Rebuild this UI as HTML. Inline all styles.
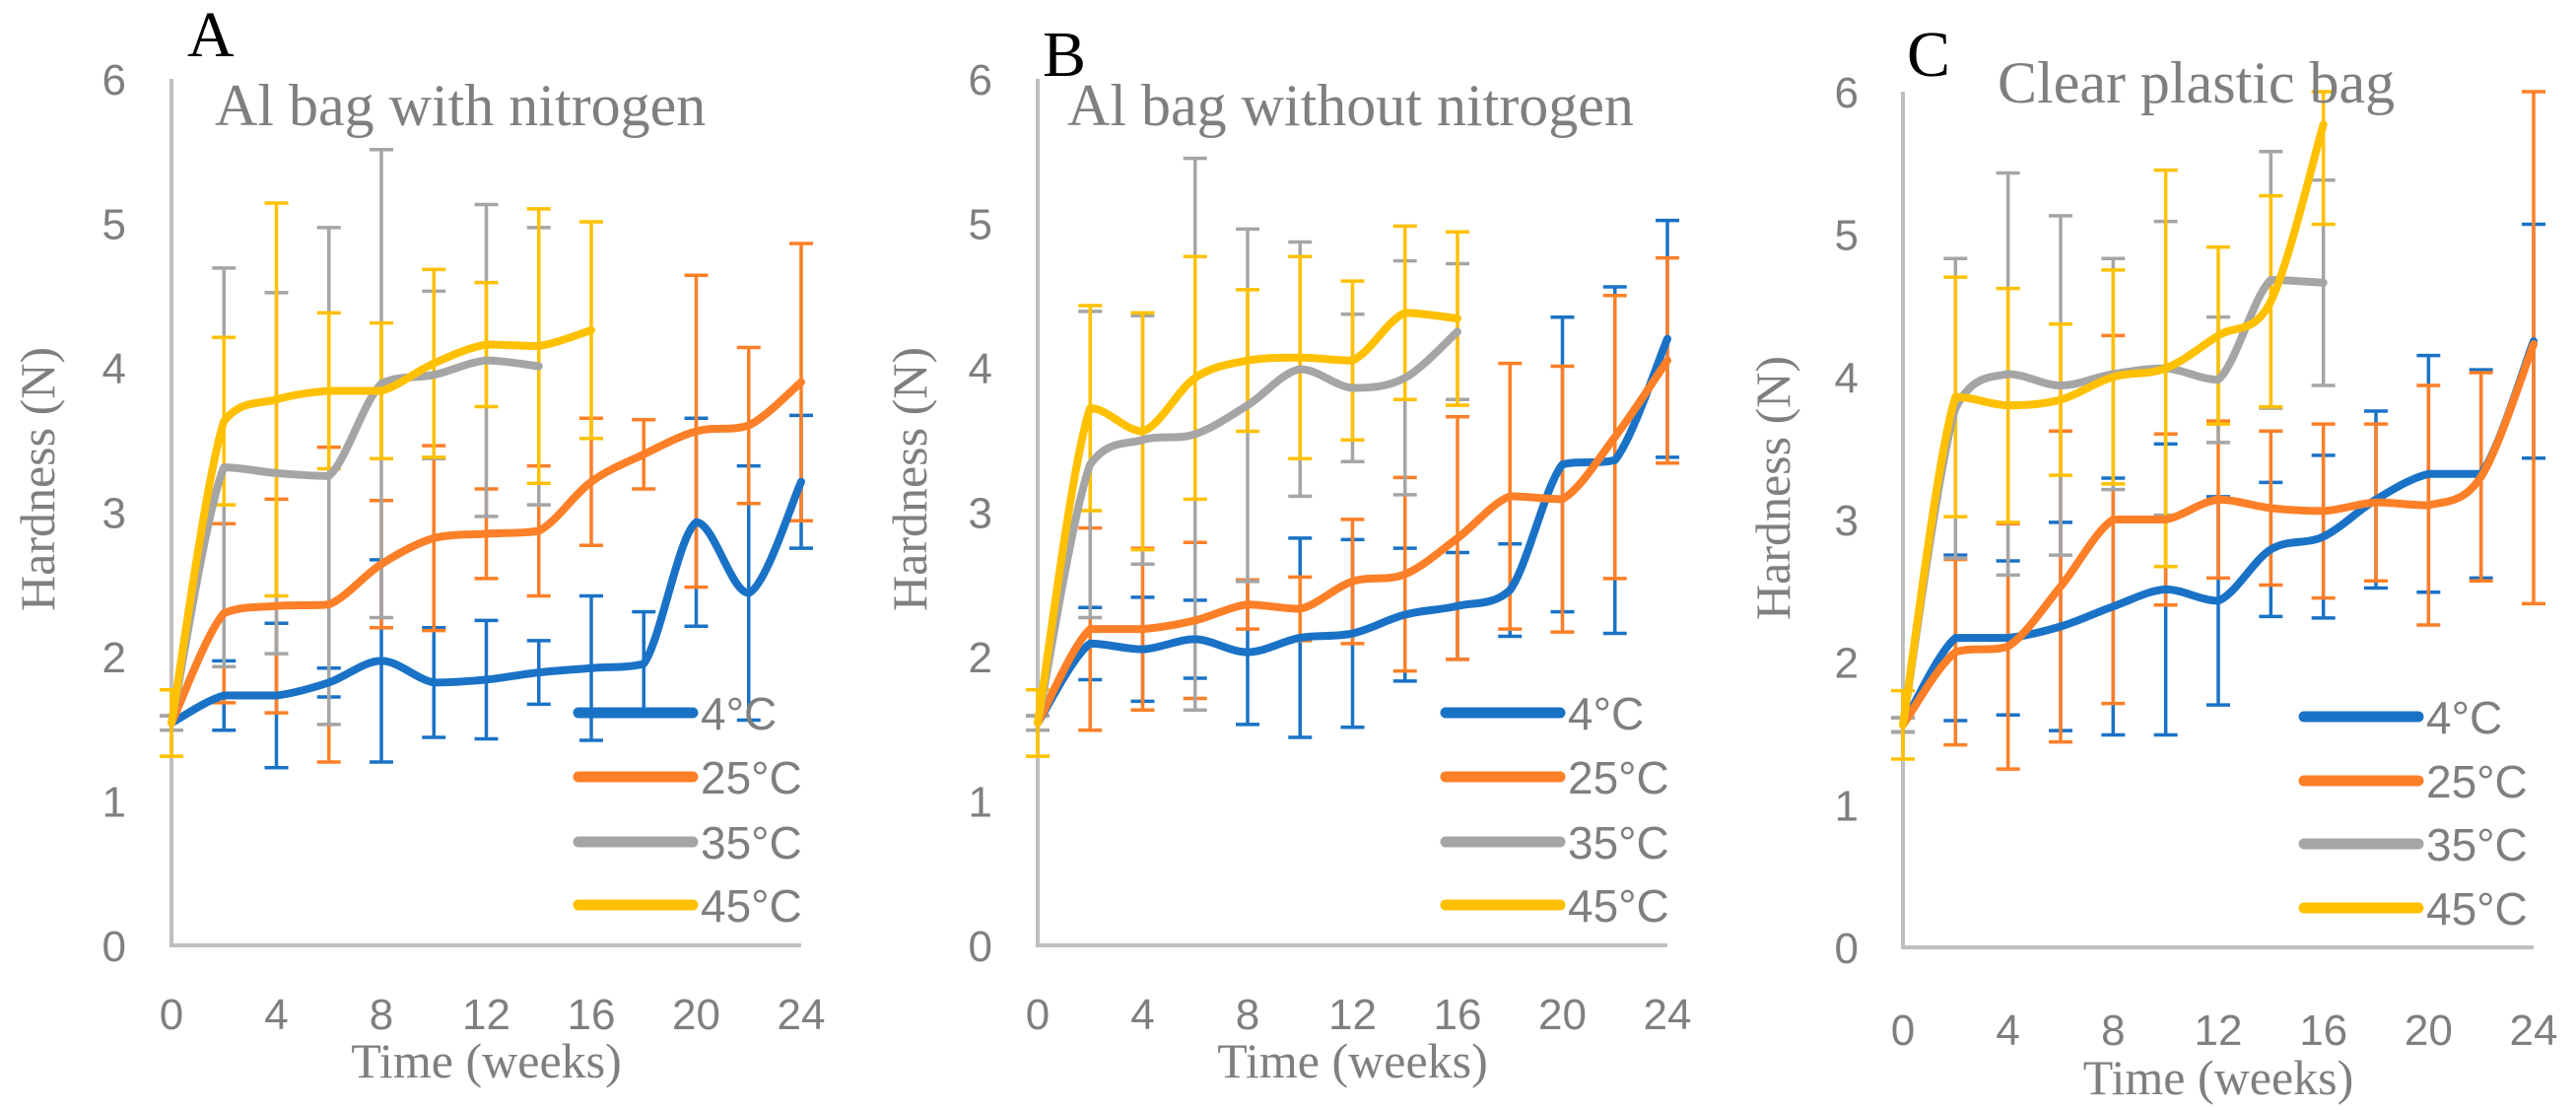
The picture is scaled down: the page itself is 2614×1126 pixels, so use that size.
<!DOCTYPE html>
<html><head><meta charset="utf-8"><style>
html,body{margin:0;padding:0;background:#fff;}
svg{display:block;}
.tick{font-family:"Liberation Sans",sans-serif;font-size:44px;fill:#7f7f7f;}
.leg{font-family:"Liberation Sans",sans-serif;font-size:46px;fill:#7f7f7f;}
.ttl{font-family:"Liberation Serif",serif;font-size:60px;fill:#7f7f7f;}
.axt{font-family:"Liberation Serif",serif;font-size:50px;fill:#7f7f7f;}
.let{font-family:"Liberation Serif",serif;font-size:66px;fill:#000;}
</style></head><body>
<svg id="chart" width="2614" height="1126" viewBox="0 0 2614 1126" xmlns="http://www.w3.org/2000/svg"></svg>
<script>
const weeks = [0,2,4,6,8,10,12,14,16,18,20,22,24];
const xTicks = [0,4,8,12,16,20,24];
const yTicks = [0,1,2,3,4,5,6];
const seriesNames = ["4°C","25°C","35°C","45°C"];
const colors = ["#1a72c6","#fd7f27","#a5a5a5","#ffc000"];

const aBlue = [1.54,1.73,1.73,1.82,1.97,1.82,1.84,1.89,1.92,1.95,2.93,2.44,3.21];
const aBlueErr = [0.05,0.24,0.5,0.1,0.7,0.38,0.41,0.22,0.5,0.36,0.72,0.88,0.46];
const aOrange = [1.54,2.30,2.35,2.36,2.64,2.82,2.85,2.87,3.21,3.40,3.56,3.60,3.90];
const aOrangeErr = [0.05,0.62,0.74,1.09,0.44,0.64,0.31,0.45,0.44,0.24,1.08,0.54,0.96];
const aGray = [1.54,3.31,3.27,3.25,3.89,3.95,4.05,4.01];
const aGrayErr = [0.05,1.38,1.25,1.72,1.62,0.58,1.08,0.96];
const aYellow = [1.54,3.63,3.78,3.84,3.84,4.03,4.16,4.15,4.26];
const aYellowErr = [0.23,0.58,1.36,0.54,0.47,0.65,0.43,0.95,0.75];

const bBlue = [1.54,2.09,2.05,2.12,2.03,2.13,2.16,2.29,2.35,2.46,3.33,3.36,4.20];
const bBlueErr = [0.05,0.25,0.36,0.27,0.5,0.69,0.65,0.46,0.37,0.32,1.02,1.2,0.82];
const bOrange = [1.54,2.19,2.19,2.25,2.36,2.33,2.52,2.57,2.82,3.11,3.09,3.52,4.05];
const bOrangeErr = [0.05,0.7,0.56,0.54,0.17,0.22,0.43,0.67,0.84,0.92,0.92,0.98,0.71];
const bGray = [1.54,3.33,3.50,3.54,3.74,3.99,3.86,3.93,4.25];
const bGrayErr = [0.05,1.06,0.86,1.91,1.22,0.88,0.51,0.81,0.47];
const bYellow = [1.54,3.72,3.56,3.93,4.05,4.07,4.05,4.38,4.34];
const bYellowErr = [0.23,0.71,0.82,0.84,0.49,0.7,0.55,0.6,0.6];

const cBlue = [1.56,2.17,2.17,2.25,2.39,2.51,2.43,2.79,2.88,3.14,3.32,3.32,4.25];
const cBlueErr = [0.05,0.58,0.54,0.73,0.9,1.02,0.73,0.47,0.57,0.62,0.83,0.73,0.82];
const cOrange = [1.56,2.07,2.11,2.53,3.00,3.00,3.14,3.08,3.06,3.12,3.10,3.30,4.23];
const cOrangeErr = [0.05,0.65,0.86,1.09,1.29,0.6,0.55,0.54,0.61,0.55,0.84,0.73,1.82];
const cGray = [1.56,3.78,4.02,3.94,4.02,4.06,3.98,4.68,4.66];
const cGrayErr = [0.05,1.05,1.41,1.19,0.81,1.03,0.44,0.9,0.72];
const cYellow = [1.56,3.86,3.80,3.84,4.00,4.06,4.29,4.53,5.77];
const cYellowErr = [0.24,0.84,0.82,0.53,0.75,1.39,0.62,0.74,0.7];

const NS = "http://www.w3.org/2000/svg";
const svg = document.getElementById('chart');
function mk(tag, attrs, parent){
  const e = document.createElementNS(NS, tag);
  for (const k in attrs) e.setAttribute(k, attrs[k]);
  (parent||svg).appendChild(e);
  return e;
}

const panels = [
  {id:"a", letter:"A", title:"Al bag with nitrogen", x0:174, x1:813, y0:959, y6:80,
   series:[[aBlue,aBlueErr],[aOrange,aOrangeErr],[aGray,aGrayErr],[aYellow,aYellowErr]],
   letterX:190, letterY:57, titleX:218, titleY:127, ylabX:128, ytitleX:55, ytitleY:486, xlabY:1044, xtitleY:1093,
   legX:587, legY:[723,788,854,918]},
  {id:"b", letter:"B", title:"Al bag without nitrogen", x0:1053, x1:1692, y0:959, y6:80,
   series:[[bBlue,bBlueErr],[bOrange,bOrangeErr],[bGray,bGrayErr],[bYellow,bYellowErr]],
   letterX:1058, letterY:77, titleX:1083, titleY:127, ylabX:1007, ytitleX:940, ytitleY:486, xlabY:1044, xtitleY:1093,
   legX:1467, legY:[723,788,854,918]},
  {id:"c", letter:"C", title:"Clear plastic bag", x0:1931, x1:2571, y0:961, y6:93,
   series:[[cBlue,cBlueErr],[cOrange,cOrangeErr],[cGray,cGrayErr],[cYellow,cYellowErr]],
   letterX:1935, letterY:77, titleX:2027, titleY:104, ylabX:1886, ytitleX:1816, ytitleY:495, xlabY:1060, xtitleY:1110,
   legX:2338, legY:[727,792,856,921]}
];

function clampY(v, a, b){ const lo=Math.min(a,b), hi=Math.max(a,b); return Math.max(lo, Math.min(hi, v)); }
function smoothPath(pts){
  let d = "M" + pts[0][0] + "," + pts[0][1];
  for (let i=0;i<pts.length-1;i++){
    const p0 = pts[Math.max(0,i-1)], p1 = pts[i], p2 = pts[i+1], p3 = pts[Math.min(pts.length-1,i+2)];
    const c1x = p1[0] + (p2[0]-p0[0])/6, c1y = clampY(p1[1] + (p2[1]-p0[1])/6, p1[1], p2[1]);
    const c2x = p2[0] - (p3[0]-p1[0])/6, c2y = clampY(p2[1] - (p3[1]-p1[1])/6, p1[1], p2[1]);
    d += " C" + c1x + "," + c1y + " " + c2x + "," + c2y + " " + p2[0] + "," + p2[1];
  }
  return d;
}

panels.forEach(p => {
  const xs = w => p.x0 + (w/24)*(p.x1-p.x0);
  const ys = v => p.y0 - (Math.max(0,Math.min(6,v))/6)*(p.y0-p.y6);
  const g = mk('g', {});
  
  

  const letter = mk('text', {x:p.letterX, y:p.letterY, class:'let'}, g);
  letter.textContent = p.letter;
  
  

  const ax = mk('path', {d:`M${p.x0},${p.y6} L${p.x0},${p.y0} L${p.x1},${p.y0}`, fill:'none', stroke:'#bfbfbf', 'stroke-width':4}, g);
  
  

  yTicks.forEach(t => {
    const tx = mk('text', {x:p.ylabX, y:ys(t)+16, class:'tick', 'text-anchor':'end'}, g);
    tx.textContent = t;
    
    
  });
  xTicks.forEach(t => {
    const tx = mk('text', {x:xs(t), y:p.xlabY, class:'tick', 'text-anchor':'middle'}, g);
    tx.textContent = t;
    
    
  });

  const xt = mk('text', {x:(p.x0+p.x1)/2, y:p.xtitleY, class:'axt', 'text-anchor':'middle'}, g);
  xt.textContent = 'Time (weeks)';
  
  
  const yt = mk('text', {x:p.ytitleX, y:p.ytitleY, class:'axt', 'text-anchor':'middle', transform:`rotate(-90 ${p.ytitleX} ${p.ytitleY})`}, g);
  yt.textContent = 'Hardness (N)';
  
  

  p.series.forEach((s, si) => {
    const [vals, errs] = s;
    vals.forEach((v, i) => {
      const x = xs(weeks[i]);
      const top = ys(v + errs[i]), bot = ys(v - errs[i]);
      const eb = mk('path', {d:`M${x},${top} L${x},${bot} M${x-12},${top} L${x+12},${top} M${x-12},${bot} L${x+12},${bot}`, stroke:colors[si], 'stroke-width':3.5, fill:'none'}, g);
      
      
    });
  });
  p.series.forEach((s, si) => {
    const pts = s[0].map((v,i) => [xs(weeks[i]), ys(v)]);
    const ln = mk('path', {d:smoothPath(pts), stroke:colors[si], 'stroke-width':8, fill:'none', 'stroke-linecap':'round', 'stroke-linejoin':'round'}, g);
    
    
  });

  const tt = mk('text', {x:p.titleX, y:p.titleY, class:'ttl'}, g);
  tt.textContent = p.title;
  
  

  seriesNames.forEach((n, si) => {
    const y = p.legY[si];
    const ll = mk('line', {x1:p.legX, y1:y, x2:p.legX+116, y2:y, stroke:colors[si], 'stroke-width':11, 'stroke-linecap':'round'}, g);
    
    
    const lt = mk('text', {x:p.legX+124, y:y+17, class:'leg'}, g);
    lt.textContent = n;
    
    
  });
});
</script>
</body></html>
